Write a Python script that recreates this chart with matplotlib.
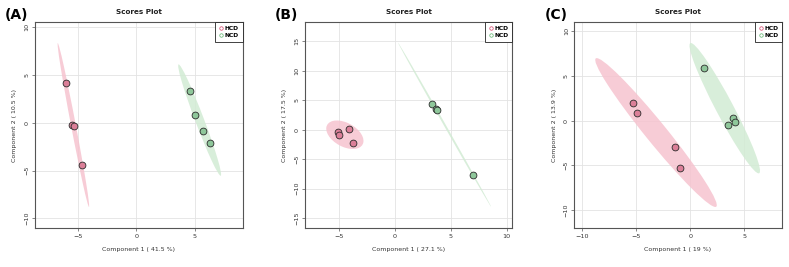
import numpy as np
import matplotlib.pyplot as plt
from matplotlib.patches import Ellipse
from matplotlib.lines import Line2D

# Scores
groups = ["HCD", "NCD"]

a_hcd_x = [-6.04, -5.53, -5.36, -4.70]
a_hcd_y = [4.10, -0.28, -0.39, -4.45]
a_ncd_x = [4.60, 5.04, 5.75, 6.30]
a_ncd_y = [3.33, 0.79, -0.90, -2.16]

b_hcd_x = [-5.15, -5.00, -4.10, -3.75]
b_hcd_y = [-0.44, -0.90, 0.12, -2.20]
b_ncd_x = [3.35, 3.68, 3.75, 6.98]
b_ncd_y = [4.30, 3.45, 3.28, -7.67]

c_hcd_x = [-5.35, -4.97, -1.42, -0.96]
c_hcd_y = [2.00, 0.89, -2.93, -5.33]
c_ncd_x = [1.24, 3.50, 3.93, 4.15]
c_ncd_y = [5.81, -0.48, 0.33, -0.15]

panels = [
    dict(tag="(A)", xlab="Component 1 ( 41.5 %)", ylab="Component 2 ( 10.5 %)",
         hcd=(a_hcd_x, a_hcd_y), ncd=(a_ncd_x, a_ncd_y),
         xlim=(-8.7, 9.1), ylim=(-11.0, 10.5),
         xticks=[-5, 0, 5], yticks=[-10, -5, 0, 5, 10]),
    dict(tag="(B)", xlab="Component 1 ( 27.1 %)", ylab="Component 2 ( 17.5 %)",
         hcd=(b_hcd_x, b_hcd_y), ncd=(b_ncd_x, b_ncd_y),
         xlim=(-8.1, 10.5), ylim=(-16.7, 18.3),
         xticks=[-5, 0, 5, 10], yticks=[-15, -10, -5, 0, 5, 10, 15]),
    dict(tag="(C)", xlab="Component 1 ( 19 %)", ylab="Component 2 ( 13.9 %)",
         hcd=(c_hcd_x, c_hcd_y), ncd=(c_ncd_x, c_ncd_y),
         xlim=(-10.76, 8.5), ylim=(-12.0, 11.0),
         xticks=[-10, -5, 0, 5], yticks=[-10, -5, 0, 5, 10]),
]

fill_col = {"HCD": "#db7f98", "NCD": "#8ec79a"}
ell_col = {"HCD": "#f6c3cf", "NCD": "#d2ebd4"}
leg_col = {"HCD": "#d6416b", "NCD": "#5cb36b"}

# 95% confidence ellipse scale for 2 df
k95 = np.sqrt(-2 * np.log(0.05))


def conf_ellipse(ax, x, y, color):
    x = np.asarray(x)
    y = np.asarray(y)
    cov = np.cov(x, y)
    vals, vecs = np.linalg.eigh(cov)
    order = vals.argsort()[::-1]
    vals, vecs = vals[order], vecs[:, order]
    ang = np.degrees(np.arctan2(vecs[1, 0], vecs[0, 0]))
    e = Ellipse((x.mean(), y.mean()), 2 * k95 * np.sqrt(vals[0]),
                2 * k95 * np.sqrt(vals[1]), angle=ang,
                facecolor=color, edgecolor="none", alpha=0.85, zorder=1)
    ax.add_patch(e)


fig = plt.figure(figsize=(7.89, 2.67), dpi=100)
lefts = [35 / 789, 304.7 / 789, 574.3 / 789]
width = 207.5 / 789
bottom = 1 - 228 / 267
height = 206 / 267
tag_x = [5 / 789, 275 / 789, 545 / 789]

for i, p in enumerate(panels):
    ax = fig.add_axes([lefts[i], bottom, width, height])
    ax.set_xlim(*p["xlim"])
    ax.set_ylim(*p["ylim"])
    ax.set_xticks(p["xticks"])
    ax.set_yticks(p["yticks"])
    ax.grid(True, color="#e3e3e3", lw=0.6, zorder=0)
    ax.set_axisbelow(True)

    for g in groups:
        gx, gy = p[g.lower()]
        conf_ellipse(ax, gx, gy, ell_col[g])
        ax.scatter(gx, gy, s=24, facecolor=fill_col[g], edgecolor="#2b2b2b",
                   linewidths=0.6, zorder=3)

    for s in ax.spines.values():
        s.set_color("#555555")
        s.set_linewidth(0.8)
    ax.tick_params(labelsize=4.6, length=2, width=0.5, color="#555555",
                   labelcolor="#333333", pad=2)
    for lab in ax.get_yticklabels():
        lab.set_rotation(90)
        lab.set_va("center")

    ax.set_xlabel(p["xlab"], fontsize=4.5, color="#333333", labelpad=6)
    ax.set_ylabel(p["ylab"], fontsize=4.5, color="#333333", labelpad=5)
    ax.set_title("Scores Plot", fontsize=5.2, fontweight="bold",
                 color="#222222", pad=6)

    handles = [Line2D([], [], ls="none", marker="o", markersize=2.5,
                      markerfacecolor="none", markeredgecolor=leg_col[g],
                      markeredgewidth=0.5, label=g) for g in groups]
    leg = ax.legend(handles=handles, loc="upper right", borderaxespad=0,
                    fancybox=False, edgecolor="#222222", framealpha=1,
                    prop=dict(size=4.3, weight="bold"), handletextpad=0.2,
                    handlelength=0.8, borderpad=0.6, labelspacing=0.4)
    leg.get_frame().set_linewidth(0.6)

    fig.text(tag_x[i], 1 - 15 / 267, p["tag"], fontsize=10, fontweight="bold",
             va="center", ha="left")

fig.savefig("out.png", dpi=100)
